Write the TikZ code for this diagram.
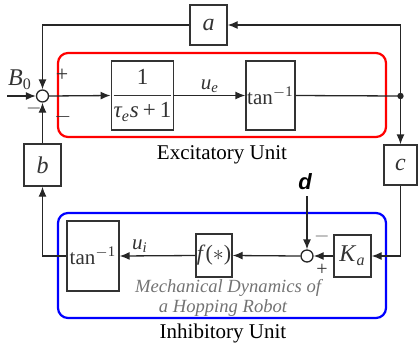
\documentclass[tikz,border=0pt]{standalone}
\usepackage{amsmath}
\usepackage{fontspec}
\setmainfont{Liberation Serif}
\setsansfont{Liberation Sans}
\usetikzlibrary{arrows.meta}
\begin{document}
\begin{tikzpicture}[x=0.5pt,y=-0.5pt,
  blk/.style={draw=black!80, line width=0.65pt, inner sep=0pt, text=black!80},
  sumc/.style={draw=black!85, line width=0.65pt, circle, minimum size=6pt, inner sep=0pt},
  arr/.style={-{Latex[length=5pt,width=4pt]}, line width=0.65pt, draw=black!85},
  ln/.style={line width=0.65pt, draw=black!85},
  unit/.style={rounded corners=5pt, line width=1.1pt},
  lab/.style={inner sep=0pt, text=black!80}
]
\useasboundingbox (0,0) rectangle (418,350);
% unit boxes
\draw[unit, draw=red] (58,53) rectangle (386,137);
\draw[unit, draw=blue] (58,213) rectangle (386,318);
% blocks
\node[blk, minimum width=18.5pt, minimum height=20pt, font=\fontsize{12}{12}\selectfont\itshape] (a) at (208.5,25) {a};
\node[sumc] (s1) at (42.5,96) {};
\node[blk, minimum width=30.5pt, minimum height=34.5pt, font=\fontsize{11.5}{12}\selectfont] (g1) at (142.5,95.5)
  {$\dfrac{\text{1}}{\text{\itshape τ}_{\text{\itshape e}}\text{\itshape s}\,\text{+}\,\text{1}}$};
\node[blk, minimum width=24.5pt, minimum height=34.5pt, font=\fontsize{10.5}{12}\selectfont] (tE) at (270.5,95.5) {tan\textsuperscript{$-$1}};
\coordinate (dot) at (400.5,96);
\node[blk, minimum width=16.5pt, minimum height=20pt, font=\fontsize{12}{12}\selectfont\itshape] (c) at (400.5,165) {c};
\node[blk, minimum width=18.5pt, minimum height=21pt, font=\fontsize{12}{12}\selectfont\itshape] (b) at (42.5,165) {b};
\node[blk, minimum width=26pt, minimum height=35pt, font=\fontsize{10.5}{12}\selectfont] (tI) at (93,256) {tan\textsuperscript{$-$1}};
\node[blk, minimum width=18pt, minimum height=21.5pt, font=\fontsize{11}{12}\selectfont] (f) at (214,255.5) {\textit{f}($\ast$)};
\node[sumc] (s2) at (307,256) {};
\node[blk, minimum width=18.5pt, minimum height=21pt, font=\fontsize{12}{12}\selectfont] (Ka) at (352.5,256) {\textit{K}\textsubscript{\textit{a}}};
\coordinate (B0in) at (7,96);
\coordinate (dpt) at (307,196);
% connectors
\draw[arr] (B0in) -- (s1.west);
\draw[arr] (s1.east) -- (g1.west);
\draw[arr] (g1.east) -- (tE.west);
\draw[ln] (tE.east) -- (dot);
\fill[black!85] (dot) circle (1.6pt);
\draw[arr] (dot) -- (c.north);
\draw[arr] (dot) |- (a.east);
\draw[arr] (a.west) -| (s1.north);
\draw[arr] (b.north) -- (s1.south);
\draw[arr] (tI.west) -| (b.south);
\draw[arr] (c.south) |- (Ka.east);
\draw[arr] (Ka.west) -- (s2.east);
\draw[arr] (dpt) -- (s2.north);
\draw[arr] (s2.west) -- (f.east);
\draw[arr] (f.west) -- (tI.east);
% labels
\node[lab, font=\fontsize{12}{12}\selectfont] (B0) at (20,80) {\textit{B}\textsubscript{0}};
\node[lab, font=\fontsize{11}{12}\selectfont] (p1) at (62,75) {+};
\node[lab, font=\fontsize{11}{12}\selectfont] (m1) at (63,117) {$-$};
\node[lab, font=\fontsize{10}{12}\selectfont\bfseries] (m1b) at (34,108) {$-$};
\node[lab, font=\fontsize{10.5}{12}\selectfont] (ue) at (210,86) {\textit{u}\textsubscript{\textit{e}}};
\node[lab, font=\fontsize{10.5}{12}\selectfont] (ui) at (140,246) {\textit{u}\textsubscript{\textit{i}}};
\node[lab, font=\fontsize{10.5}{12}\selectfont, text=black] (eu) at (222,155) {Excitatory Unit};
\node[lab, font=\fontsize{10.5}{12}\selectfont, text=black] (iu) at (223,333) {Inhibitory Unit};
\node[lab, font=\fontsize{9.3}{12}\selectfont\itshape, text=black!55] (mech1) at (228,288) {Mechanical Dynamics of};
\node[lab, font=\fontsize{9.3}{12}\selectfont\itshape, text=black!55] (mech2) at (223,308) {a Hopping Robot};
\node[lab, font=\fontsize{11}{12}\selectfont\sffamily\bfseries\itshape, text=black] (d) at (305,182) {d};
\node[lab, font=\fontsize{10}{12}\selectfont, text=black!60] (m2) at (322,236) {$-$};
\node[lab, font=\fontsize{10}{12}\selectfont] (p2) at (322,270) {+};
\end{tikzpicture}
\end{document}
